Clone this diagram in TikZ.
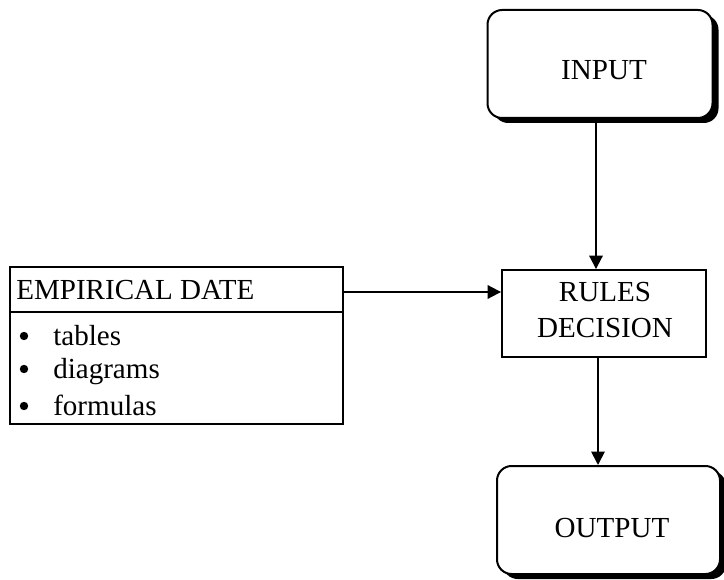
\documentclass[tikz,border=0pt]{standalone}
\usepackage{fontspec}
\setmainfont{Liberation Serif}
\usetikzlibrary{arrows.meta,shadows}
\begin{document}
\begin{tikzpicture}[x=0.75pt,y=-0.75pt,
  every node/.style={font=\fontsize{21.8}{26}\selectfont},
  roundbox/.style={draw,line width=1.5pt,rounded corners=11pt,fill=white,
    inner sep=0pt,
    drop shadow={shadow xshift=4.5pt,shadow yshift=-3.75pt,opacity=1,fill=black}},
  plainbox/.style={draw,line width=1.4pt,fill=white,inner sep=0pt},
  bulletdot/.style={circle,fill=black,inner sep=0pt,minimum size=6.3pt},
  arr/.style={line width=1.4pt,-{Triangle[length=10pt,width=10pt]}},
  itemtext/.style={anchor=base west,inner sep=0pt}]
\useasboundingbox (0,0) rectangle (724,580);
% INPUT
\node[roundbox,minimum width=168.75pt,minimum height=81pt] (input) at (600,64) {};
\node[anchor=base,inner sep=0pt] (intext) at (604,80) {INPUT};
% RULES DECISION
\node[plainbox,minimum width=153pt,minimum height=65.25pt] (rules) at (604,313.5) {};
\node[anchor=base,inner sep=0pt] (r1) at (605,302) {RULES};
\node[anchor=base,inner sep=0pt] (r2) at (605,338) {DECISION};
% OUTPUT
\node[roundbox,minimum width=167.25pt,minimum height=81pt] (output) at (608.5,520) {};
\node[anchor=base,inner sep=0pt] (outtext) at (612,537) {OUTPUT};
% EMPIRICAL DATE
\node[plainbox,minimum width=249.75pt,minimum height=117.75pt] (emp) at (176.5,345.5) {};
\coordinate (dl) at (10,312);
\coordinate (dr) at (343,312);
\draw[line width=1.4pt] (dl) -- (dr);
\node[itemtext] (head) at (16,300) {EMPIRICAL DATE};
\node[bulletdot] (b1) at (24,336) {};
\node[itemtext] (t1) at (53,346) {tables};
\node[bulletdot] (b2) at (24,369) {};
\node[itemtext] (t2) at (53,379) {diagrams};
\node[bulletdot] (b3) at (24,406) {};
\node[itemtext] (t3) at (53,416) {formulas};
% connectors
\coordinate (ea) at (343,292);
\draw[arr] (ea) -- (rules.west |- ea);
\draw[arr] ([xshift=-3pt]input.south) -- ([xshift=-3pt]input.south |- rules.north);
\draw[arr] ([xshift=-4.5pt]rules.south) -- ([xshift=-4.5pt]rules.south |- output.north);
\end{tikzpicture}
\end{document}
